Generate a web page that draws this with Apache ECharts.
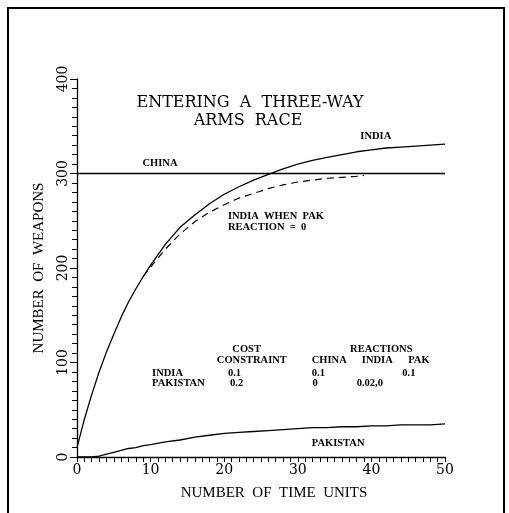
<!DOCTYPE html>
<html>
<head>
<meta charset="utf-8">
<script src="https://cdn.jsdelivr.net/npm/echarts@6/dist/echarts.min.js"></script>
<style>
  html, body { margin: 0; padding: 0; background: #fff; }
  #chart { width: 509px; height: 513px; }
</style>
</head>
<body>
<div id="chart"></div>
<script>
// Time steps and weapon stocks for the three-way arms race
const time = [0, 1, 2, 3, 4, 5, 6, 7, 8, 9, 10, 12, 14, 16, 18, 20, 22, 24, 26, 28, 30, 32, 34, 36, 38, 40, 42, 44, 46, 48, 50];
const india = [10, 40, 66, 90, 111, 130, 148, 164, 178, 191, 203, 225, 243, 256, 268, 278, 286, 293, 299, 305, 310, 314, 317, 320, 323, 325, 327, 328, 329, 330, 331];
const pakistan = [0, 0, 0, 1, 3, 5, 7, 9, 10, 12, 13, 16, 18, 21, 23, 25, 26, 27, 28, 29, 30, 31, 31, 32, 32, 33, 33, 34, 34, 34, 35];

// India's path when Pakistan's reaction coefficient is zero
const timeNoPak = [9, 10, 12, 14, 16, 18, 20, 22, 24, 26, 28, 30, 32, 34, 36, 38, 39];
const indiaNoPak = [191, 201, 220, 236, 249, 259, 267, 274, 279, 284, 288, 291, 293, 295, 296, 297, 298];

// China holds a constant level
const chinaTime = [0, 50];
const chinaLevel = [300, 300];

const xTicks = [0, 10, 20, 30, 40, 50];
const yTicks = [0, 100, 200, 300, 400];

const pairs = (xs, ys) => xs.map((x, i) => [x, ys[i]]);

const SERIF = '"Liberation Serif", "Times New Roman", serif';
const WIDE_SERIF = '"DejaVu Serif", serif';
const LABEL_FONT = 'bold 10.5px ' + SERIF;

const chart = echarts.init(document.getElementById('chart'), null, { renderer: 'canvas' });

const lineStyle = { color: '#000', width: 1.3 };

chart.setOption({
  animation: false,
  backgroundColor: '#fff',
  grid: { left: 77, right: 64, top: 79, bottom: 56, containLabel: false },
  xAxis: {
    type: 'value',
    min: xTicks[0],
    max: xTicks[xTicks.length - 1],
    interval: xTicks[1] - xTicks[0],
    name: 'NUMBER  OF  TIME  UNITS',
    nameLocation: 'middle',
    nameGap: 29,
    nameTextStyle: { color: '#000', fontFamily: SERIF, fontSize: 15, padding: [0, 0, 0, 26] },
    axisLine: { show: true, onZero: false, lineStyle: { color: '#000', width: 1.3 } },
    axisTick: { show: true, length: 5, lineStyle: { color: '#000', width: 1 } },
    minorTick: { show: true, splitNumber: 10, length: 5, lineStyle: { color: '#000', width: 1 } },
    axisLabel: { color: '#000', fontFamily: WIDE_SERIF, fontSize: 14, margin: 6 },
    splitLine: { show: false },
    minorSplitLine: { show: false }
  },
  yAxis: {
    type: 'value',
    min: yTicks[0],
    max: yTicks[yTicks.length - 1],
    interval: yTicks[1] - yTicks[0],
    name: 'NUMBER  OF  WEAPONS',
    nameLocation: 'middle',
    nameGap: 30,
    nameRotate: 90,
    nameTextStyle: { color: '#000', fontFamily: SERIF, fontSize: 15 },
    axisLine: { show: true, onZero: false, lineStyle: { color: '#000', width: 1.3 } },
    axisTick: { show: true, length: 7, lineStyle: { color: '#000', width: 1 } },
    minorTick: { show: true, splitNumber: 10, length: 5, lineStyle: { color: '#000', width: 1 } },
    axisLabel: { color: '#000', fontFamily: WIDE_SERIF, fontSize: 14, rotate: 90, margin: 7 },
    splitLine: { show: false },
    minorSplitLine: { show: false }
  },
  series: [
    {
      name: 'CHINA', type: 'line', data: pairs(chinaTime, chinaLevel),
      symbol: 'none', lineStyle: lineStyle, z: 2
    },
    {
      name: 'INDIA', type: 'line', data: pairs(time, india),
      symbol: 'none', lineStyle: lineStyle, z: 3
    },
    {
      name: 'INDIA WHEN PAK REACTION = 0', type: 'line', data: pairs(timeNoPak, indiaNoPak),
      symbol: 'none', lineStyle: { color: '#000', width: 1.2, type: [7, 5] }, z: 3
    },
    {
      name: 'PAKISTAN', type: 'line', data: pairs(time, pakistan),
      symbol: 'none', lineStyle: lineStyle, z: 3
    }
  ]
});

// Annotations anchored in data coordinates: [text, time, weapons, font, align]
const notes = [
  ['INDIA', 38.5, 339, LABEL_FONT, 'left'],
  ['CHINA', 8.9, 311, LABEL_FONT, 'left'],
  ['INDIA  WHEN  PAK', 20.5, 255, LABEL_FONT, 'left'],
  ['REACTION  =  0', 20.5, 243, LABEL_FONT, 'left'],
  ['PAKISTAN', 31.9, 15, LABEL_FONT, 'left'],
  // parameter table
  ['COST', 21.1, 114, LABEL_FONT, 'left'],
  ['REACTIONS', 37.1, 114, LABEL_FONT, 'left'],
  ['CONSTRAINT', 19.0, 102, LABEL_FONT, 'left'],
  ['CHINA', 31.9, 102, LABEL_FONT, 'left'],
  ['INDIA', 38.7, 102, LABEL_FONT, 'left'],
  ['PAK', 45.0, 102, LABEL_FONT, 'left'],
  ['INDIA', 10.2, 89, LABEL_FONT, 'left'],
  ['0.1', 20.5, 89, LABEL_FONT, 'left'],
  ['0.1', 31.9, 89, LABEL_FONT, 'left'],
  ['0.1', 44.2, 89, LABEL_FONT, 'left'],
  ['PAKISTAN', 10.2, 78, LABEL_FONT, 'left'],
  ['0.2', 20.8, 78, LABEL_FONT, 'left'],
  ['0', 32.0, 78, LABEL_FONT, 'left'],
  ['0.02,0', 38.0, 78, LABEL_FONT, 'left']
];

const graphics = [
  {
    type: 'rect', silent: true,
    shape: { x: 8, y: 8, width: 496, height: 530 },
    style: { fill: 'none', stroke: '#000', lineWidth: 2 }
  },
  {
    type: 'text', x: 250, y: 103, silent: true,
    style: { text: 'ENTERING  A  THREE-WAY', font: '16px ' + WIDE_SERIF, fill: '#000', textAlign: 'center', textVerticalAlign: 'middle' }
  },
  {
    type: 'text', x: 248, y: 121, silent: true,
    style: { text: 'ARMS  RACE', font: '16px ' + WIDE_SERIF, fill: '#000', textAlign: 'center', textVerticalAlign: 'middle' }
  }
];

notes.forEach(([text, t, v, font, align]) => {
  const p = chart.convertToPixel({ gridIndex: 0 }, [t, v]);
  graphics.push({
    type: 'text', x: p[0], y: p[1], silent: true,
    style: { text, font, fill: '#000', textAlign: align, textVerticalAlign: 'middle' }
  });
});

chart.setOption({ graphic: graphics });
</script>
</body>
</html>
